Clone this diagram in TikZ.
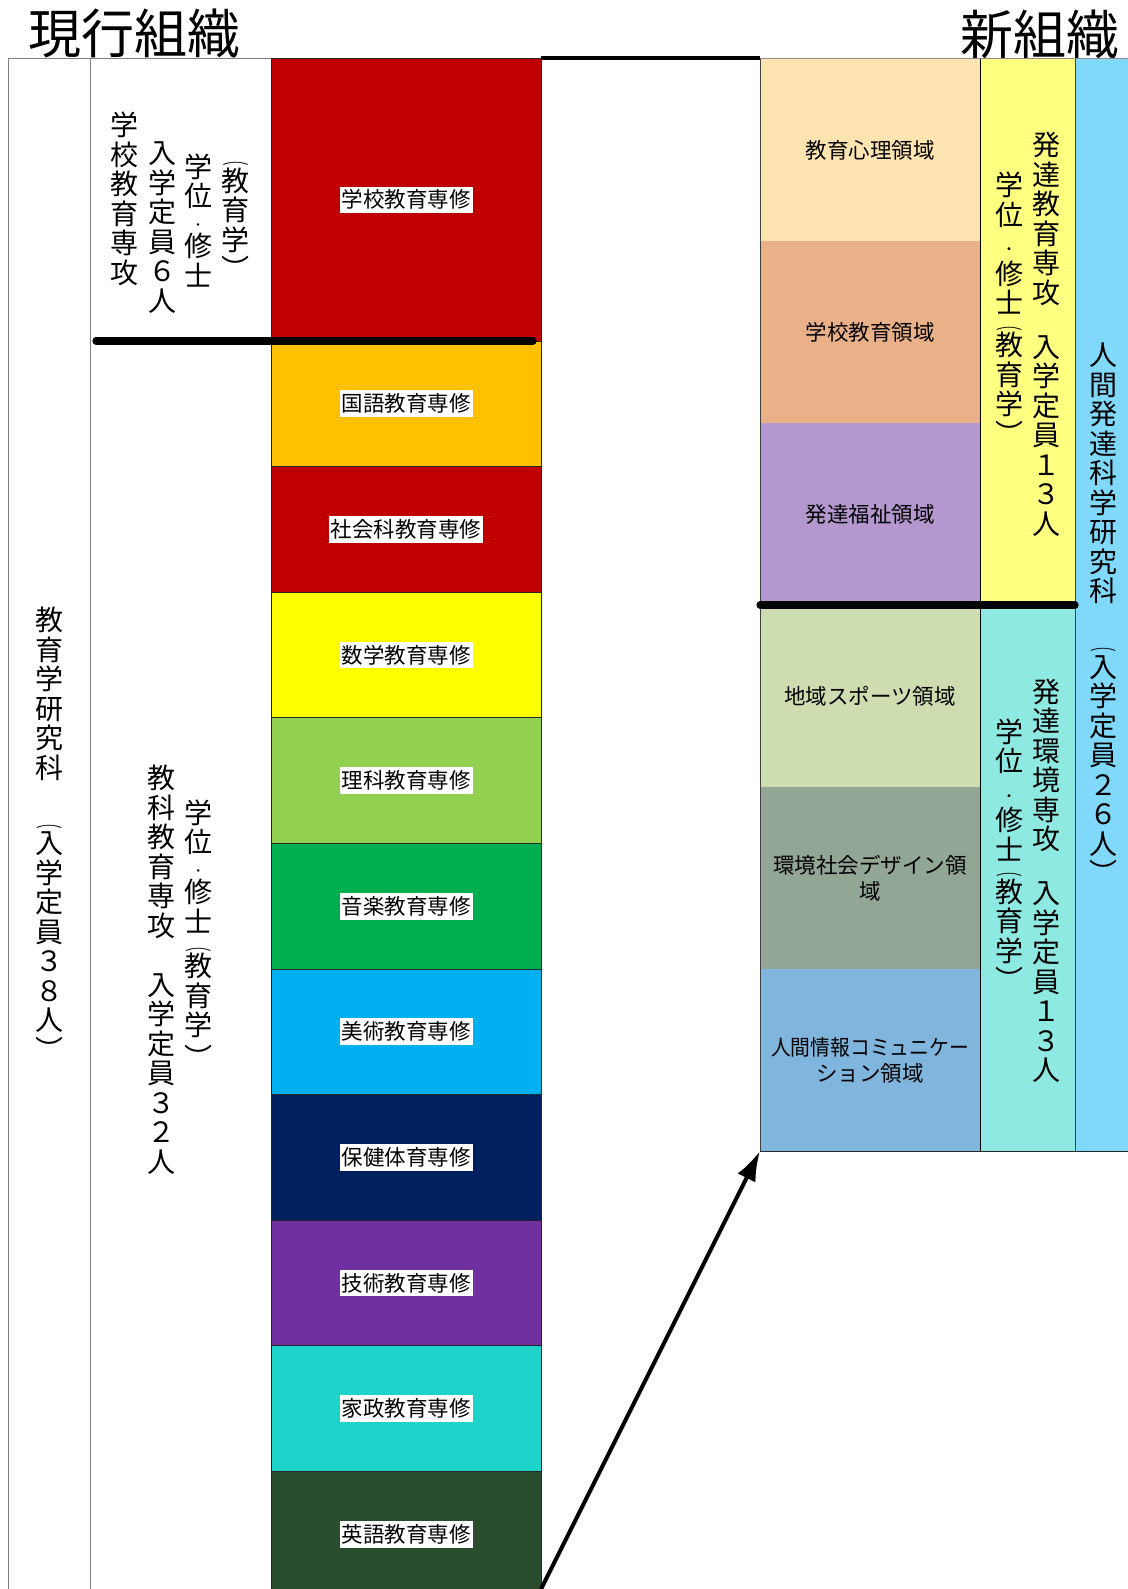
\documentclass[tikz,border=0pt]{standalone}
\usepackage{fontspec}
\usepackage{graphicx}
\newfontfamily\jp{Noto Sans CJK JP}
\usetikzlibrary{arrows.meta,calc}
\definecolor{cRed}{HTML}{C00000}
\definecolor{cOrange}{HTML}{FFC000}
\definecolor{cYellow}{HTML}{FFFF00}
\definecolor{cLGreen}{HTML}{92D050}
\definecolor{cGreen}{HTML}{00B050}
\definecolor{cSky}{HTML}{00B0F0}
\definecolor{cNavy}{HTML}{002060}
\definecolor{cPurple}{HTML}{7030A0}
\definecolor{cTeal}{HTML}{1DD3CA}
\definecolor{cDGreen}{HTML}{2A4D2E}
\definecolor{cPa}{HTML}{FDE4B0}
\definecolor{cPb}{HTML}{EAB189}
\definecolor{cPc}{HTML}{B497CF}
\definecolor{cPd}{HTML}{CDDDB0}
\definecolor{cPe}{HTML}{93A594}
\definecolor{cPf}{HTML}{80B6DD}
\definecolor{cSa}{HTML}{FFFF80}
\definecolor{cSb}{HTML}{8EE9E3}
\definecolor{cK}{HTML}{80D8FA}
\newcommand\sdot{{\fontsize{7}{7}\selectfont ・}}
\newcommand\sdotl{{\fontsize{6}{6}\selectfont ・}}
\newcommand\opn[1]{\makebox[0pt][l]{\makebox[1em]{\smash{\raisebox{#1}{\scalebox{2.2}[1]{\fontsize{6}{6}\selectfont ︵}}}}}}
\begin{document}
\begin{tikzpicture}[x=0.5pt,y=-0.5pt,
  wcol/.style={draw=black!50, line width=0.5pt, anchor=north west, inner sep=0pt, outer sep=0pt, minimum height=780pt},
  cbox/.style={draw=black!85, line width=0.5pt, anchor=north west, inner sep=0pt, outer sep=0pt, minimum width=135pt},
  lab/.style={fill=white, font=\jp\fontsize{10.75}{13}\selectfont, inner xsep=1pt, inner ysep=1.3pt, text height=9.4pt, text depth=1.4pt},
  pbox/.style={draw=none, anchor=north west, inner sep=0pt, outer sep=0pt, minimum width=110pt, minimum height=91pt, align=center, font=\jp\fontsize{10.75}{13}\selectfont},
  sbox/.style={draw=none, anchor=north west, inner sep=0pt, outer sep=0pt, minimum width=47.5pt, minimum height=273pt},
  vt/.style={font=\jp\fontsize{14}{14.75}\selectfont, align=center, inner sep=0pt, anchor=north},
  ttl/.style={font=\jp\fontsize{26.5}{30}\selectfont, inner sep=0pt},
  thin/.style={line width=0.5pt},
  sepline/.style={line width=3.6pt, line cap=round},
  arr/.style={line width=2pt, -{Latex[length=15pt,width=10pt]}}
]
\useasboundingbox (0,0) rectangle (1128,1589);
\clip (0,0) rectangle (1128,1589);

% titles
\node[ttl] (told) at (134,34) {現行組織};
\node[ttl] (tnew) at (1040,35) {新組織};

% left white columns
\node[wcol, minimum width=41pt] (cA) at (8,59) {};
\node[wcol, minimum width=90.5pt] (cB) at (90,59) {};

% coloured column (current)
\node[cbox, fill=cRed, minimum height=141pt] (r1) at (271,59) {};
\node[cbox, fill=cOrange, minimum height=62.8pt] (r2) at (r1.south west) {};
\node[cbox, fill=cRed, minimum height=62.8pt] (r3) at (r2.south west) {};
\node[cbox, fill=cYellow, minimum height=62.8pt] (r4) at (r3.south west) {};
\node[cbox, fill=cLGreen, minimum height=62.8pt] (r5) at (r4.south west) {};
\node[cbox, fill=cGreen, minimum height=62.8pt] (r6) at (r5.south west) {};
\node[cbox, fill=cSky, minimum height=62.8pt] (r7) at (r6.south west) {};
\node[cbox, fill=cNavy, minimum height=62.8pt] (r8) at (r7.south west) {};
\node[cbox, fill=cPurple, minimum height=62.8pt] (r9) at (r8.south west) {};
\node[cbox, fill=cTeal, minimum height=62.8pt] (r10) at (r9.south west) {};
\node[cbox, fill=cDGreen, minimum height=66pt] (r11) at (r10.south west) {};

\node[lab] (t1) at (r1) {学校教育専修};
\node[lab] (t2) at (r2) {国語教育専修};
\node[lab] (t3) at (r3) {社会科教育専修};
\node[lab] (t4) at (r4) {数学教育専修};
\node[lab] (t5) at (r5) {理科教育専修};
\node[lab] (t6) at (r6) {音楽教育専修};
\node[lab] (t7) at (r7) {美術教育専修};
\node[lab] (t8) at (r8) {保健体育専修};
\node[lab] (t9) at (r9) {技術教育専修};
\node[lab] (t10) at (r10) {家政教育専修};
\node[lab] (t11) at ($(r10.south)+(0,62.8)$) {英語教育専修};

% new organisation
\node[pbox, fill=cPa] (p1) at (760,59) {教育心理領域};
\node[pbox, fill=cPb] (p2) at (p1.south west) {学校教育領域};
\node[pbox, fill=cPc] (p3) at (p2.south west) {発達福祉領域};
\node[pbox, fill=cPd] (p4) at (p3.south west) {地域スポーツ領域};
\node[pbox, fill=cPe] (p5) at (p4.south west) {環境社会デザイン領\\域};
\node[pbox, fill=cPf] (p6) at (p5.south west) {\scalebox{0.92}[1]{人間情報コミュニケー}\\ション領域};
\node[sbox, fill=cSa] (s1) at (980,59) {};
\node[sbox, fill=cSb] (s2) at (s1.south west) {};
\node[sbox, fill=cK, minimum width=40pt, minimum height=546pt] (k) at (1075,59) {};

\draw[thin, draw=black!45] (p1.north west) -- (k.north east);
\draw[thin, draw=black!75] (p1.north west) -- (p6.south west);
\draw[thin, draw=black!85] (p6.south west) -- (k.south east);
\draw[thin, draw=black] (s1.north west) -- (s2.south west);
\draw[thin, draw=black!75] (k.north west) -- (k.south west);

% thick separators
\draw[line width=2pt] ($(r1.north east)+(0,-1)$) -- ($(p1.north west)+(0,-1)$);
\draw[sepline] ($(cB.west |- r1.south)+(6,0)$) -- ($(r1.south east)+(-8,0)$);
\draw[sepline] (p3.south west) -- (s1.south east);

% arrow
\coordinate (astart) at (541,1589);
\draw[arr] (astart) -- (p6.south west);

% vertical texts
\node[vt] (va) at (49,606.7) {教\\育\\学\\研\\究\\科\\[23.05pt]\opn{13.3pt}入\\学\\定\\員\\３\\８\\人\\︶};
\node[vt] (vb) at (124,111.7) {学\\校\\教\\育\\専\\攻};
\node[vt] (vc) at (162.5,141.7) {入\\学\\定\\員\\６\\人};
\node[vt] (vd) at (198,153.2) {学\\位\\[-3.25pt]\sdotl\\[-1.25pt]修\\士};
\node[vt] (ve) at (235.5,167.5) {\opn{13.5pt}教\\育\\学\\︶};
\node[vt] (vf) at (161.7,765) {教\\科\\教\\育\\専\\攻\\[14.75pt]入\\学\\定\\員\\３\\２\\人};
\node[vt] (vg) at (198.3,799) {学\\位\\[-3.25pt]\sdotl\\[-1.25pt]修\\士\\[7.55pt]\opn{13.3pt}教\\育\\学\\[1.5pt]︶};
\node[vt] (vh) at (1046,131.7) {発\\達\\教\\育\\専\\攻\\[12.4pt]入\\学\\定\\員\\１\\３\\人};
\node[vt] (vi) at (1009,171.7) {学\\位\\\sdot\\修\\士\\[6.25pt]\opn{13.3pt}教\\育\\学\\︶};
\node[vt] (vj) at (1046,678.2) {発\\達\\環\\境\\専\\攻\\[12.4pt]入\\学\\定\\員\\１\\３\\人};
\node[vt] (vk) at (1009,718.2) {学\\位\\\sdot\\修\\士\\[6.25pt]\opn{13.3pt}教\\育\\学\\︶};
\node[vt] (vl) at (1103,342.6) {人\\間\\発\\達\\科\\学\\研\\究\\科\\[23.05pt]\opn{13.3pt}入\\学\\定\\員\\２\\６\\人\\︶};
\end{tikzpicture}
\end{document}
